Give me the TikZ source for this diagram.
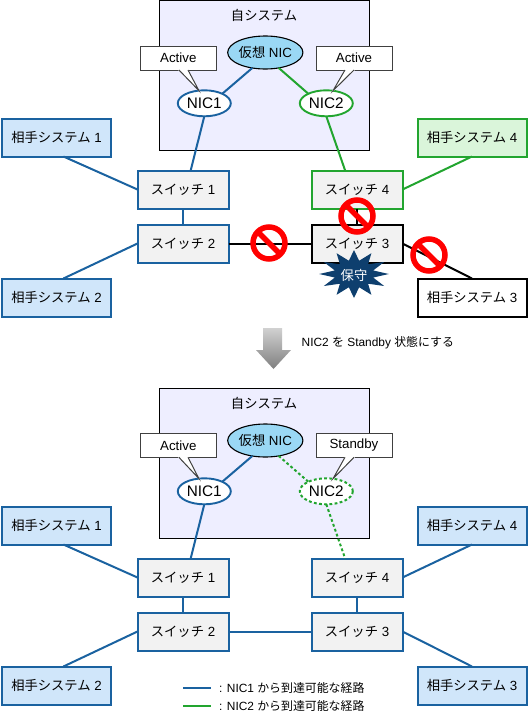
\documentclass[tikz,border=0pt]{standalone}
\usepackage{fontspec}
\setmainfont{Liberation Sans}
\newfontfamily\jpfont{Noto Sans CJK JP}
\newcommand{\jp}[1]{{\jpfont #1}}
\newcommand{\tagtail}[3]{%
  \draw[line width=1.1pt, draw=white, fill=white] (#1) -- (#3) -- (#2) -- cycle;
  \draw[line width=1pt, draw=black!75] (#1) -- (#3) -- (#2);
}
\usetikzlibrary{shapes.geometric}
\definecolor{linkblue}{HTML}{1A62A0}
\definecolor{linkgreen}{HTML}{22A52F}
\definecolor{sysblue}{HTML}{D0E6FA}
\definecolor{sysgreen}{HTML}{DAF5DA}
\definecolor{swgray}{HTML}{F2F2F2}
\definecolor{ownfill}{HTML}{EEEEFF}
\definecolor{vnicfill}{HTML}{9AD8F5}
\definecolor{starblue}{HTML}{0E3F6E}

\tikzset{
  base/.style={font=\fontsize{13.3}{16}\selectfont, inner sep=0pt, outer sep=0pt},
  ownbox/.style={base, draw=black, line width=1pt, fill=ownfill, minimum width=210pt, minimum height=150pt},
  sysbox/.style={base, line width=2pt, minimum width=109pt, minimum height=38pt},
  swbox/.style={base, line width=2pt, fill=swgray, minimum width=91pt, minimum height=38pt},
  vnicnode/.style={base, ellipse, draw=black, line width=1.1pt, fill=vnicfill, minimum width=67pt, minimum height=33pt},
  nicnode/.style={base, font=\fontsize{15.3}{18}\selectfont, ellipse, line width=1.9pt, fill=white, minimum width=53pt, minimum height=26pt},
  tagbox/.style={base, draw=black!75, line width=1pt, fill=white, minimum width=76pt, minimum height=24pt},
  bluelink/.style={line width=2pt, draw=linkblue},
  greenlink/.style={line width=2pt, draw=linkgreen},
  blacklink/.style={line width=2pt, draw=black},
  greendash/.style={greenlink, dash pattern=on 2.8pt off 2.4pt},
  nosign/.style={circle, draw=red, line width=5.5pt, minimum size=32pt, inner sep=0pt, outer sep=0pt},
  nobar/.style={draw=red, line width=5.5pt},
  smalltext/.style={font=\fontsize{11.9}{14}\selectfont, inner sep=0pt, anchor=west},
}

\begin{document}
\begin{tikzpicture}[x=1pt, y=-1pt]
  \useasboundingbox (0,0) rectangle (528,715);
  % upper picture
  \node[ownbox] (town) at (264,75) {};
  \node[base] (ttitle) at (264,15.5) {\jp{自システム}};
  \node[vnicnode] (tvnic) at (265.3,52.5) {\jp{仮想} NIC};
  \node[nicnode, draw=linkblue] (tnica) at (204.3,103.3) {NIC1};
  \node[nicnode, draw=linkgreen] (tnicb) at (326.3,103.3) {NIC2};
  \node[tagbox] (ttaga) at (178.3,58) {Active};
  \node[tagbox] (ttagb) at (354,58) {Active};
  \tagtail{ttaga.-87}{ttaga.-51}{tnica.113}
  \tagtail{ttagb.-127}{ttagb.-90}{tnicb.62}
  \node[sysbox, draw=linkblue, fill=sysblue] (tsysa) at (56.5,137.5) {\jp{相手システム} 1};
  \node[sysbox, draw=linkblue, fill=sysblue] (tsysb) at (56.5,297.5) {\jp{相手システム} 2};
  \node[sysbox, draw=black, fill=white] (tsysc) at (472,297.5) {\jp{相手システム} 3};
  \node[sysbox, draw=linkgreen, fill=sysgreen] (tsysd) at (472,137.5) {\jp{相手システム} 4};
  \node[swbox, draw=linkblue] (tswa) at (183,189.5) {\jp{スイッチ} 1};
  \node[swbox, draw=linkblue] (tswb) at (183,243.5) {\jp{スイッチ} 2};
  \node[swbox, draw=black] (tswc) at (357,243.5) {\jp{スイッチ} 3};
  \node[swbox, draw=linkgreen] (tswd) at (357,189.5) {\jp{スイッチ} 4};
  \draw[bluelink] (tvnic.-130) -- (tnica.28);
  \draw[greenlink] (tvnic.-49) -- (tnicb.152);
  \draw[bluelink] (tnica.south) -- (tswa.68);
  \draw[greenlink] (tnicb.south) -- (tswd.122);
  \draw[bluelink] (tsysa.-70) -- (tswa.west);
  \draw[bluelink] (tsysb.70) -- (tswb.west);
  \draw[bluelink] (tswa.south) -- (tswb.north);
  \draw[greenlink] (tswd.east) -- (tsysd.south);
  \draw[blacklink] (tswd.south) -- (tswc.north);
  \draw[blacklink] (tswb.east) -- (tswc.west);
  \draw[blacklink] (tswc.east) -- (tsysc.north);
  % maintenance mark
  \node[star, star points=12, star point ratio=1.75, fill=starblue, minimum size=48pt, inner sep=0pt, xscale=1.45, transform shape] (tstar) at (354,274) {};
  \node[base, text=white] (tstarlabel) at (354,275) {\jp{保守}};
  % stop marks
  \node[nosign] (tnoa) at (269,243) {};
  \node[nosign] (tnob) at (357,216) {};
  \node[nosign] (tnoc) at (429,255) {};
  \draw[nobar] (tnoa.135) -- (tnoa.-45);
  \draw[nobar] (tnob.135) -- (tnob.-45);
  \draw[nobar] (tnoc.135) -- (tnoc.-45);
  % arrow between the pictures
  \shade[top color=black!18, bottom color=black!50] (263,328) -- (282,328) -- (282,350) -- (291,350) -- (273.5,369) -- (256,350) -- (263,350) -- cycle;
  \node[smalltext] (stepnote) at (301.5,343) {NIC2 \jp{を} Standby \jp{状態にする}};
  % lower picture
  \node[ownbox] (bown) at (264,463) {};
  \node[base] (btitle) at (264,403.5) {\jp{自システム}};
  \node[vnicnode] (bvnic) at (265.3,440.5) {\jp{仮想} NIC};
  \node[nicnode, draw=linkblue] (bnica) at (204.3,491.3) {NIC1};
  \node[nicnode, draw=linkgreen, greendash] (bnicb) at (326.3,491.3) {NIC2};
  \node[tagbox] (btaga) at (178.3,445.3) {Active};
  \node[tagbox] (btagb) at (354,445.3) {Standby};
  \tagtail{btaga.-87}{btaga.-51}{bnica.113}
  \tagtail{btagb.-127}{btagb.-90}{bnicb.62}
  \node[sysbox, draw=linkblue, fill=sysblue] (bsysa) at (56.5,525.5) {\jp{相手システム} 1};
  \node[sysbox, draw=linkblue, fill=sysblue] (bsysb) at (56.5,685.5) {\jp{相手システム} 2};
  \node[sysbox, draw=linkblue, fill=sysblue] (bsysc) at (472,685.5) {\jp{相手システム} 3};
  \node[sysbox, draw=linkblue, fill=sysblue] (bsysd) at (472,525.5) {\jp{相手システム} 4};
  \node[swbox, draw=linkblue] (bswa) at (183,577.5) {\jp{スイッチ} 1};
  \node[swbox, draw=linkblue] (bswb) at (183,631.5) {\jp{スイッチ} 2};
  \node[swbox, draw=linkblue] (bswc) at (357,631.5) {\jp{スイッチ} 3};
  \node[swbox, draw=linkblue] (bswd) at (357,577.5) {\jp{スイッチ} 4};
  \draw[bluelink] (bvnic.-130) -- (bnica.28);
  \draw[greendash] (bvnic.-49) -- (bnicb.152);
  \draw[bluelink] (bnica.south) -- (bswa.68);
  \draw[greendash] (bnicb.south) -- (bswd.122);
  \draw[bluelink] (bsysa.-70) -- (bswa.west);
  \draw[bluelink] (bsysb.70) -- (bswb.west);
  \draw[bluelink] (bswa.south) -- (bswb.north);
  \draw[bluelink] (bswd.east) -- (bsysd.south);
  \draw[bluelink] (bswd.south) -- (bswc.north);
  \draw[bluelink] (bswb.east) -- (bswc.west);
  \draw[bluelink] (bswc.east) -- (bsysc.north);
  % legend
  \coordinate (lega) at (183,688);
  \coordinate (legb) at (211,688);
  \coordinate (legc) at (183,706);
  \coordinate (legd) at (211,706);
  \draw[bluelink] (lega) -- (legb);
  \draw[greenlink] (legc) -- (legd);
  \node[smalltext] (legtexta) at (219,687.5) {: NIC1 \jp{から到達可能な経路}};
  \node[smalltext] (legtextb) at (219,706) {: NIC2 \jp{から到達可能な経路}};
\end{tikzpicture}
\end{document}
